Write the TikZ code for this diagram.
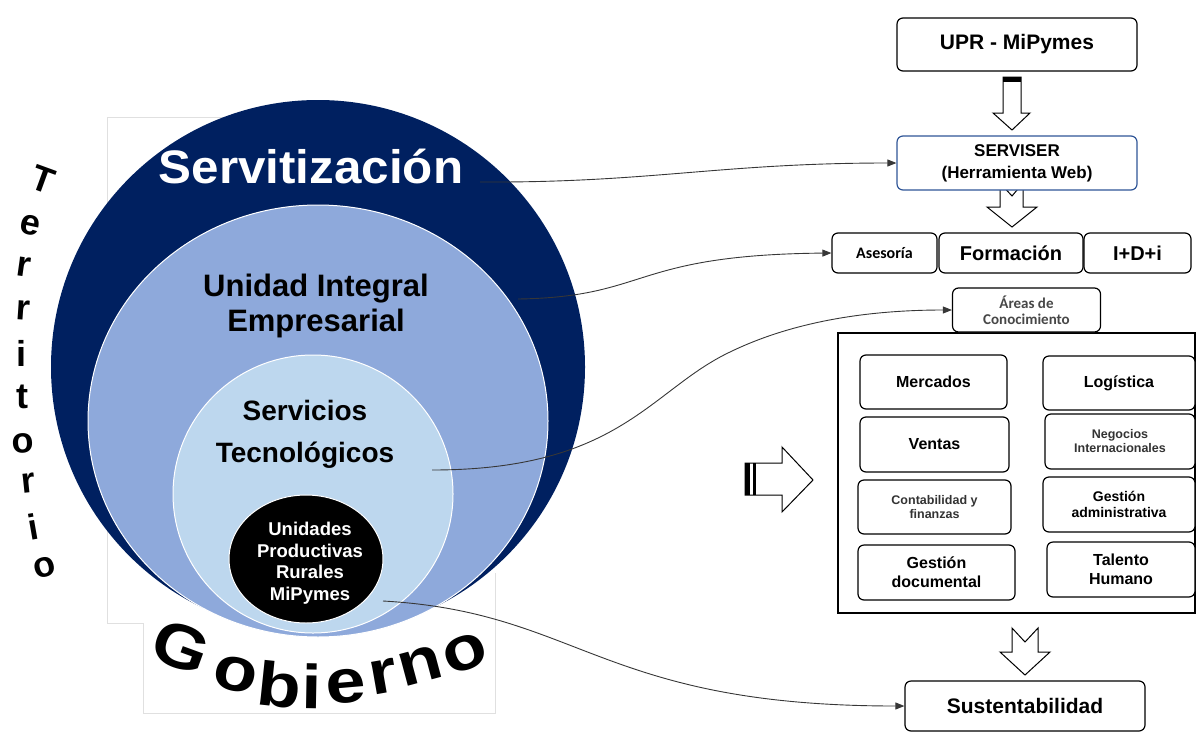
\documentclass[tikz,border=0pt]{standalone}
\usepackage{fontspec}
\setmainfont{Liberation Sans}
\newfontfamily\calfont{Carlito}
\usetikzlibrary{arrows.meta}
\definecolor{navy}{RGB}{0,32,96}
\definecolor{midblue}{RGB}{142,169,219}
\definecolor{lightblue}{RGB}{189,215,238}
\definecolor{servblue}{RGB}{47,85,151}
\definecolor{conncol}{RGB}{55,55,55}
\newcommand{\fsz}[2]{\fontsize{#1}{#2}\selectfont}
\newcommand{\gobl}[1]{\scalebox{1.16}[1]{#1}}
\tikzset{
  rbox/.style={draw=black, line width=1.2pt, rounded corners=6pt, fill=white, align=center, inner sep=2pt},
  conn/.style={draw=conncol, line width=0.9pt, -{Triangle[length=9pt,width=7pt]}},
  blockarrow/.style={draw=black, line width=1pt, fill=white},
  terr/.style={font=\fsz{36}{40}\bfseries, inner sep=0pt},
  gob/.style={font=\fsz{62}{64}\bfseries, inner sep=0pt, anchor=base},
  framegray/.style={draw=black!12, line width=0.6pt},
}
\begin{document}
\begin{tikzpicture}[x=1pt,y=-1pt]
\useasboundingbox (0,0) rectangle (1196,731);
% image frames
\draw[framegray] (143,623) -- (107,623) -- (107,117) -- (300,117);
\draw[framegray] (143,623) -- (143,713) -- (495,713) -- (495,573);
% circles
\fill[navy] (318,367) circle [radius=267pt];
\filldraw[fill=midblue, draw=white, line width=1pt] (318,421) ellipse [x radius=230pt, y radius=216pt];
\filldraw[fill=lightblue, draw=white, line width=1pt] (313,494) ellipse [x radius=140pt, y radius=139pt];
\filldraw[fill=black, draw=white, line width=1pt] (306,559) ellipse [x radius=77pt, y radius=64pt];
% circle texts
\node[font=\fsz{47}{50}\bfseries, text=white] (servit) at (311,166) {\scalebox{1.05}[1]{Servitización}};
\node[font=\fsz{31}{35}\bfseries, align=center] (uie) at (316,306) {Unidad Integral\\Empresarial};
\node[font=\fsz{28}{42}\bfseries, align=center] (stec) at (305,434) {Servicios\\Tecnológicos};
\node[font=\fsz{18.5}{21.5}\bfseries, text=white, align=center] (uprm) at (310,563) {Unidades\\Productivas\\Rurales\\MiPymes};
% Territorio
\node[terr, rotate=-20] (t1) at (43,180) {T};
\node[terr, rotate=-12] (t2) at (30,225) {e};
\node[terr, rotate=-8] (t3) at (24,267) {r};
\node[terr, rotate=-4] (t4) at (23,310) {r};
\node[terr, rotate=0] (t5) at (22,353) {i};
\node[terr, rotate=0] (t6) at (22,397) {t};
\node[terr, rotate=3] (t7) at (23,443) {o};
\node[terr, rotate=6] (t8) at (28,483) {r};
\node[terr, rotate=10] (t9) at (33,527) {i};
\node[terr, rotate=15] (t10) at (45,567) {o};
% Gobierno
\node[gob, rotate=-20] (g1) at (174,667) {\gobl{G}};
\node[gob, rotate=-13] (g2) at (232,690) {\gobl{o}};
\node[gob, rotate=-6] (g3) at (277,707) {\gobl{b}};
\node[gob, rotate=-1] (g4) at (311,709) {\gobl{i}};
\node[gob, rotate=5] (g5) at (347,703) {\gobl{e}};
\node[gob, rotate=10] (g6) at (386,693) {\gobl{r}};
\node[gob, rotate=15] (g7) at (425,682) {\gobl{n}};
\node[gob, rotate=21] (g8) at (471,669) {\gobl{o}};
% connector start points
\coordinate (s1) at (480,182);
\coordinate (s2) at (518,299);
\coordinate (s3) at (432,470);
\coordinate (s4) at (383,601);
% block arrows
\draw[blockarrow] (1003,77) -- (1021,77) -- (1021,113) -- (1030,113) -- (1012,130) -- (993,113) -- (1003,113) -- cycle;
\fill[black] (1003,77) rectangle (1021,82);
\draw[blockarrow] (1000,183) -- (1012,196) -- (1023,183) -- (1023,207) -- (1037,207) -- (1012,227) -- (987,207) -- (1000,207) -- cycle;
\draw[blockarrow] (745,463) -- (782,463) -- (782,447) -- (813,480) -- (782,512) -- (782,495) -- (745,495) -- cycle;
\fill[black] (745,463) rectangle (750,495);
\fill[black] (752.5,463) rectangle (756,495);
\draw[blockarrow] (1012,628) -- (1025,642) -- (1038,628) -- (1038,652) -- (1050,652) -- (1025,675) -- (1000,652) -- (1012,652) -- cycle;
% right boxes
\node[rbox, minimum width=240pt, minimum height=53pt, font=\fsz{21}{24}\bfseries] (upr) at (1017,44.5) {UPR - MiPymes};
\node[rbox, draw=servblue, minimum width=240pt, minimum height=54pt, font=\fsz{17}{22}\bfseries] (serv) at (1017,163) {SERVISER\\(Herramienta Web)};
\node[rbox, minimum width=105pt, minimum height=40pt, font=\calfont\fsz{16}{18}\bfseries] (ases) at (884.5,253) {Asesoría};
\node[rbox, minimum width=144pt, minimum height=40pt, font=\fsz{20}{22}\bfseries] (form) at (1011,253) {Formación};
\node[rbox, minimum width=107pt, minimum height=40pt, font=\fsz{20}{22}\bfseries] (idi) at (1137.5,253) {I+D+i};
\node[draw=black, line width=1.2pt, minimum width=357pt, minimum height=280pt, inner sep=0pt] (areabox) at (1016.5,473) {};
\node[rbox, minimum width=148pt, minimum height=44pt, font=\calfont\fsz{15}{16}\bfseries, text=black!72] (areas) at (1026.5,310) {Áreas de\\Conocimiento};
\node[rbox, minimum width=147pt, minimum height=54pt, font=\fsz{16}{19}\bfseries] (merc) at (933.5,382) {Mercados};
\node[rbox, minimum width=152pt, minimum height=54pt, font=\fsz{16}{19}\bfseries] (logi) at (1119,383) {Logística};
\node[rbox, minimum width=149pt, minimum height=55pt, font=\fsz{16}{19}\bfseries] (vent) at (934.5,444.5) {Ventas};
\node[rbox, minimum width=150pt, minimum height=55pt, font=\fsz{12.5}{14}\bfseries, text=black!80] (nego) at (1120,441.5) {Negocios\\Internacionales};
\node[rbox, minimum width=153pt, minimum height=54pt, font=\fsz{12.5}{13.5}\bfseries, text=black!80] (cont) at (934.5,507) {Contabilidad y\\finanzas};
\node[rbox, minimum width=152pt, minimum height=55pt, font=\fsz{14}{16.5}\bfseries] (gadm) at (1119,504.5) {Gestión\\administrativa};
\node[rbox, minimum width=157pt, minimum height=55pt, font=\fsz{16}{19}\bfseries] (gdoc) at (936.5,572.5) {Gestión\\documental};
\node[rbox, minimum width=148pt, minimum height=55pt, font=\fsz{16}{19}\bfseries] (tale) at (1121,569.5) {Talento\\Humano};
\node[rbox, minimum width=240pt, minimum height=50pt, font=\fsz{21}{24}\bfseries] (sus) at (1025,706) {Sustentabilidad};
% connectors
\draw[conn] (s1) .. controls (650,183) and (720,163) .. (serv.west);
\draw[conn] (s2) .. controls (650,297) and (630,255) .. (ases.west);
\draw[conn] (s3) .. controls (620,470) and (650,390) .. (730,352) .. controls (800,318) and (880,310) .. (areas.west);
\draw[conn] (s4) .. controls (580,612) and (600,706) .. (sus.west);
\end{tikzpicture}
\end{document}
